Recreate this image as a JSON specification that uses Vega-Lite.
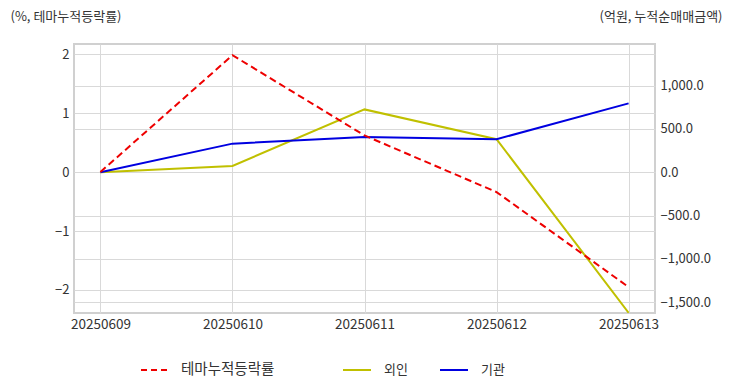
{
  "$schema": "https://vega.github.io/schema/vega-lite/v6.json",
  "width": 581,
  "height": 269,
  "autosize": {"type": "none"},
  "padding": {"left": 74, "top": 44, "right": 77, "bottom": 79},
  "background": "white",
  "config": {
    "font": "Noto Sans CJK KR",
    "view": {"stroke": "#d0d0d0", "strokeWidth": 2},
    "axis": {"labelFont": "Noto Sans CJK KR", "labelFontSize": 13, "labelColor": "#333333", "titleFont": "Noto Sans CJK KR", "titleFontSize": 13, "titleFontWeight": "normal", "titleColor": "#333333", "gridColor": "#d9d9d9", "gridWidth": 1, "domain": false, "ticks": false},
    "legend": {"labelFont": "Noto Sans CJK KR", "labelFontSize": 13, "labelColor": "#333333"}
  },
  "datasets": {
    "theme": [
      {"date": "20250609", "series": "테마누적등락률", "value": 0},
      {"date": "20250610", "series": "테마누적등락률", "value": 1.98},
      {"date": "20250611", "series": "테마누적등락률", "value": 0.62},
      {"date": "20250612", "series": "테마누적등락률", "value": -0.34},
      {"date": "20250613", "series": "테마누적등락률", "value": -1.95}
    ],
    "investors": [
      {"date": "20250609", "series": "외인", "value": 0},
      {"date": "20250610", "series": "외인", "value": 73},
      {"date": "20250611", "series": "외인", "value": 725},
      {"date": "20250612", "series": "외인", "value": 381},
      {"date": "20250613", "series": "외인", "value": -1622},
      {"date": "20250609", "series": "기관", "value": 0},
      {"date": "20250610", "series": "기관", "value": 330},
      {"date": "20250611", "series": "기관", "value": 407},
      {"date": "20250612", "series": "기관", "value": 381},
      {"date": "20250613", "series": "기관", "value": 795}
    ]
  },
  "encoding": {
    "x": {"field": "date", "type": "ordinal", "scale": {"type": "point", "padding": 0.2}, "axis": {"title": null, "labelAngle": 0, "grid": true, "labelPadding": 4, "labelFontSize": 13.5}}
  },
  "layer": [
    {
      "data": {"name": "investors"},
      "mark": {"type": "line", "strokeWidth": 2, "clip": true},
      "encoding": {
        "y": {"field": "value", "type": "quantitative", "scale": {"domain": [-1625, 1480], "nice": false, "zero": false}, "axis": {"orient": "right", "values": [-1500, -1000, -500, 0, 500, 1000], "format": ",.1f", "grid": true, "labelPadding": 5, "title": "(억원, 누적순매매금액)", "titleAngle": 0, "titleAlign": "right", "titleBaseline": "middle", "titleX": 67, "titleY": -28}},
        "color": {"field": "series", "type": "nominal", "scale": {"domain": ["외인", "기관"], "range": ["#c0c000", "#0000e0"]}, "legend": {"title": null, "orient": "none", "direction": "horizontal", "legendX": 268, "legendY": 311, "symbolType": "stroke", "symbolSize": 784, "symbolStrokeWidth": 2, "labelOffset": 12, "columnPadding": 28}}
      }
    },
    {
      "data": {"name": "theme"},
      "mark": {"type": "line", "strokeWidth": 2, "strokeDash": [7, 4], "clip": true},
      "encoding": {
        "y": {"field": "value", "type": "quantitative", "scale": {"domain": [-2.39, 2.17], "nice": false, "zero": false}, "axis": {"orient": "left", "values": [-2, -1, 0, 1, 2], "format": "d", "grid": true, "labelPadding": 5, "labelFontSize": 13, "title": "(%, 테마누적등락률)", "titleAngle": 0, "titleAlign": "left", "titleBaseline": "middle", "titleX": -64, "titleY": -28}},
        "color": {"field": "series", "type": "nominal", "scale": {"domain": ["테마누적등락률"], "range": ["#ee0000"]}, "legend": {"title": null, "orient": "none", "direction": "horizontal", "legendX": 66, "legendY": 311, "symbolType": "stroke", "symbolSize": 784, "symbolStrokeWidth": 2, "symbolDash": [6, 4], "labelOffset": 11, "labelFontSize": 14.5}}
      }
    }
  ],
  "resolve": {"scale": {"y": "independent", "color": "independent"}}
}
